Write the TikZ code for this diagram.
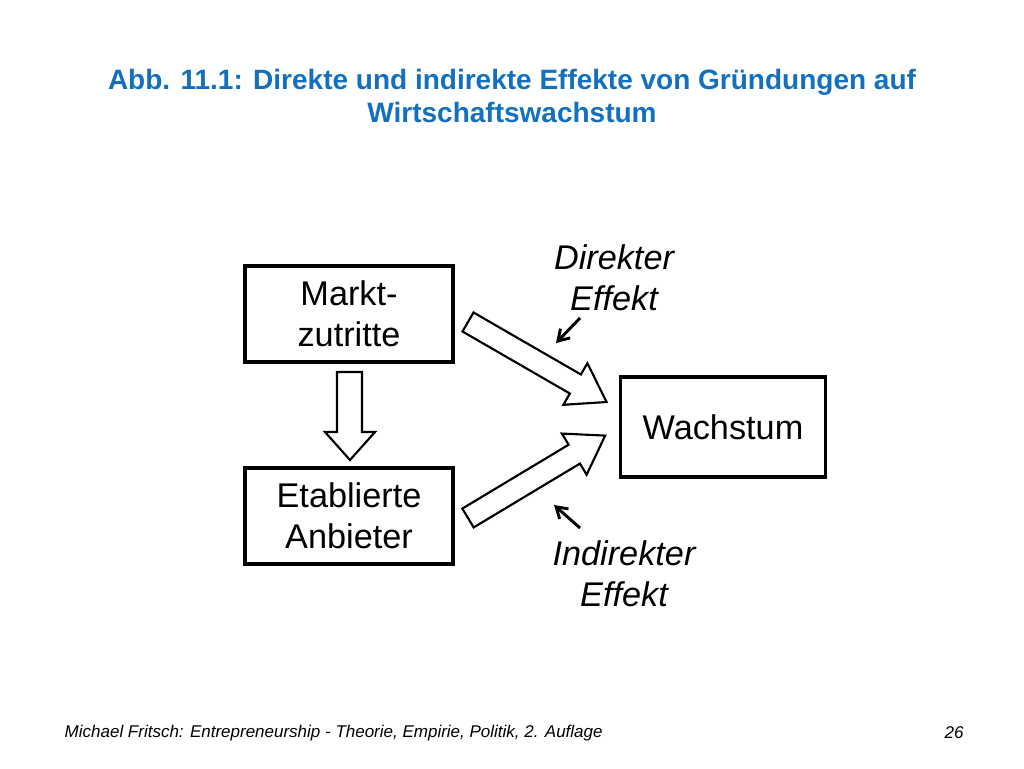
\documentclass[tikz,border=0pt]{standalone}
\usepackage{fontspec}
\setmainfont{Liberation Sans}
\usetikzlibrary{arrows.meta}
\definecolor{titleblue}{RGB}{18,112,190}
\begin{document}
\begin{tikzpicture}[x=0.75pt,y=-0.75pt,
  box/.style={draw,line width=2.6pt,align=center,font=\fontsize{25.7}{31}\selectfont},
  lab/.style={font=\itshape\fontsize{25.7}{31}\selectfont,align=center},
  blk/.style={draw,line width=1.6pt,fill=white,line join=miter},
  thin/.style={-{Straight Barb[length=8pt,width=10pt]},line width=2.2pt}]
\useasboundingbox (0,0) rectangle (1024,768);
\node[font=\bfseries\fontsize{21}{24.5}\selectfont,text=titleblue,align=center] (title) at (512,96) {Abb. 11.1: Direkte und indirekte Effekte von Gründungen auf\\Wirtschaftswachstum};
\node[box,minimum width=156pt,minimum height=72pt] (markt) at (349,314) {Markt-\\zutritte};
\node[box,minimum width=156pt,minimum height=72pt] (etab) at (349,516) {Etablierte\\Anbieter};
\node[box,minimum width=154pt,minimum height=75pt] (wachs) at (723,427) {Wachstum};
\node[lab] (dir) at (614,278) {Direkter\\Effekt};
\node[lab] (ind) at (624,574) {Indirekter\\Effekt};
% down block arrow
\draw[blk] (337,372) -- (362,372) -- (362,432) -- (375,432) -- (350,460) -- (325,432) -- (337,432) -- cycle;
% diagonal block arrows
\begin{scope}[shift={(468,322)},rotate=-30]
\draw[blk] (0,-11) -- (124,-11) -- (124,-24) -- (160,0) -- (124,24) -- (124,11) -- (0,11) -- cycle;
\end{scope}
\begin{scope}[shift={(468,518)},rotate=31]
\draw[blk] (0,-11) -- (124,-11) -- (124,-24) -- (160,0) -- (124,24) -- (124,11) -- (0,11) -- cycle;
\end{scope}
\coordinate (d1) at (580,318); \coordinate (d2) at (556,343);
\coordinate (i1) at (580,528); \coordinate (i2) at (554,505);
\draw[thin] (d1) -- (d2);
\draw[thin] (i1) -- (i2);
\node[font=\itshape\fontsize{12.75}{15}\selectfont,anchor=west] (foot) at (60,733) {Michael Fritsch: Entrepreneurship - Theorie, Empirie, Politik, 2. Auflage};
\node[font=\itshape\fontsize{12.75}{15}\selectfont] (page) at (954,733) {26};
\end{tikzpicture}
\end{document}
